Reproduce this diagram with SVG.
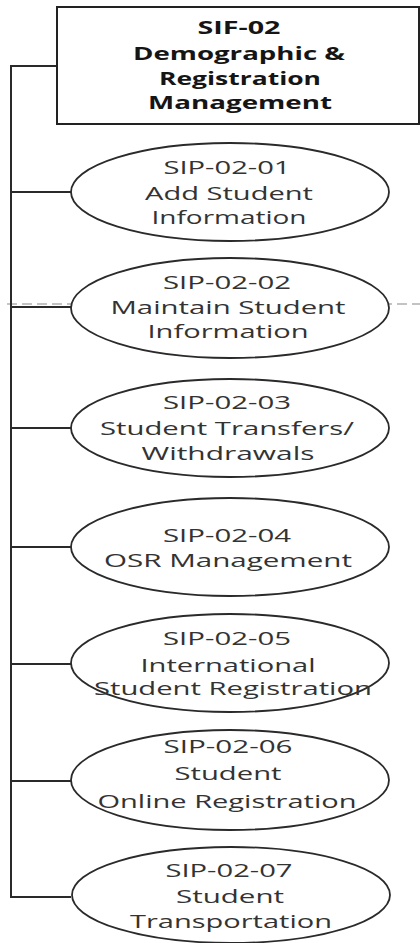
<svg xmlns="http://www.w3.org/2000/svg" width="420" height="943" viewBox="0 0 420 943">
  <style>
    .bg { fill: #ffffff; }
    .box { fill: #ffffff; stroke: #222222; stroke-width: 2; }
    .oval { fill: #ffffff; stroke: #2a2a2a; stroke-width: 1.8; }
    .wire { fill: none; stroke: #2a2a2a; stroke-width: 2; }
    .guide { fill: none; stroke: #b0b0b0; stroke-width: 1.5; stroke-dasharray: 10 5; }
    .title { font-family: "Open Sans", "Liberation Sans", sans-serif; font-weight: bold; font-size: 18px; fill: #151515; text-anchor: middle; }
    .label { font-family: "Open Sans", "Liberation Sans", sans-serif; font-size: 17.5px; fill: #333333; text-anchor: middle; }
  </style>

  <rect class="bg" x="0" y="0" width="420" height="943"/>

  <!-- faint dashed guide running behind the second ellipse -->
  <line class="guide" x1="7" y1="304" x2="420" y2="304"/>

  <!-- connectors: spine on the left with a branch to each item -->
  <g id="connectors">
    <path class="wire" d="M57 66 H11 V897 H71"/>
    <line class="wire" x1="11" y1="192" x2="71" y2="192"/>
    <line class="wire" x1="11" y1="307" x2="71" y2="307"/>
    <line class="wire" x1="11" y1="428" x2="71" y2="428"/>
    <line class="wire" x1="11" y1="547" x2="71" y2="547"/>
    <line class="wire" x1="11" y1="664" x2="71" y2="664"/>
    <line class="wire" x1="11" y1="781" x2="71" y2="781"/>
  </g>

  <g id="sif-02">
    <rect class="box" x="57" y="7" width="362" height="117"/>
    <text class="title" x="239" y="34" textLength="83" lengthAdjust="spacingAndGlyphs">SIF-02</text>
    <text class="title" x="239" y="60" textLength="212" lengthAdjust="spacingAndGlyphs">Demographic &amp;</text>
    <text class="title" x="240" y="85" textLength="162" lengthAdjust="spacingAndGlyphs">Registration</text>
    <text class="title" x="240" y="109" textLength="184" lengthAdjust="spacingAndGlyphs">Management</text>
  </g>

  <g id="sip-02-01">
    <ellipse class="oval" cx="230" cy="192" rx="159" ry="49"/>
    <text class="label" x="227" y="174" textLength="127" lengthAdjust="spacingAndGlyphs">SIP-02-01</text>
    <text class="label" x="229" y="200" textLength="168" lengthAdjust="spacingAndGlyphs">Add Student</text>
    <text class="label" x="229" y="224" textLength="155" lengthAdjust="spacingAndGlyphs">Information</text>
  </g>

  <g id="sip-02-02">
    <ellipse class="oval" cx="230" cy="308" rx="159" ry="50"/>
    <text class="label" x="227" y="289" textLength="128" lengthAdjust="spacingAndGlyphs">SIP-02-02</text>
    <text class="label" x="228" y="314" textLength="235" lengthAdjust="spacingAndGlyphs">Maintain Student</text>
    <text class="label" x="228" y="338" textLength="161" lengthAdjust="spacingAndGlyphs">Information</text>
  </g>

  <g id="sip-02-03">
    <ellipse class="oval" cx="230" cy="428" rx="159" ry="49"/>
    <text class="label" x="227" y="409" textLength="128" lengthAdjust="spacingAndGlyphs">SIP-02-03</text>
    <text class="label" x="227" y="435" textLength="254" lengthAdjust="spacingAndGlyphs">Student Transfers/</text>
    <text class="label" x="228" y="460" textLength="173" lengthAdjust="spacingAndGlyphs">Withdrawals</text>
  </g>

  <g id="sip-02-04">
    <ellipse class="oval" cx="230" cy="547" rx="159" ry="49"/>
    <text class="label" x="227" y="542" textLength="128" lengthAdjust="spacingAndGlyphs">SIP-02-04</text>
    <text class="label" x="228" y="567" textLength="248" lengthAdjust="spacingAndGlyphs">OSR Management</text>
  </g>

  <g id="sip-02-05">
    <ellipse class="oval" cx="230" cy="663" rx="159" ry="49"/>
    <text class="label" x="227" y="645" textLength="128" lengthAdjust="spacingAndGlyphs">SIP-02-05</text>
    <text class="label" x="228" y="672" textLength="175" lengthAdjust="spacingAndGlyphs">International</text>
    <text class="label" x="233" y="695" textLength="278" lengthAdjust="spacingAndGlyphs">Student Registration</text>
  </g>

  <g id="sip-02-06">
    <ellipse class="oval" cx="230" cy="780" rx="159" ry="50"/>
    <text class="label" x="228" y="753" textLength="129" lengthAdjust="spacingAndGlyphs">SIP-02-06</text>
    <text class="label" x="228" y="780" textLength="107" lengthAdjust="spacingAndGlyphs">Student</text>
    <text class="label" x="227" y="808" textLength="259" lengthAdjust="spacingAndGlyphs">Online Registration</text>
  </g>

  <g id="sip-02-07">
    <ellipse class="oval" cx="231" cy="895" rx="159" ry="48"/>
    <text class="label" x="229" y="877" textLength="127" lengthAdjust="spacingAndGlyphs">SIP-02-07</text>
    <text class="label" x="230" y="903" textLength="108" lengthAdjust="spacingAndGlyphs">Student</text>
    <text class="label" x="231" y="928" textLength="202" lengthAdjust="spacingAndGlyphs">Transportation</text>
  </g>
</svg>
